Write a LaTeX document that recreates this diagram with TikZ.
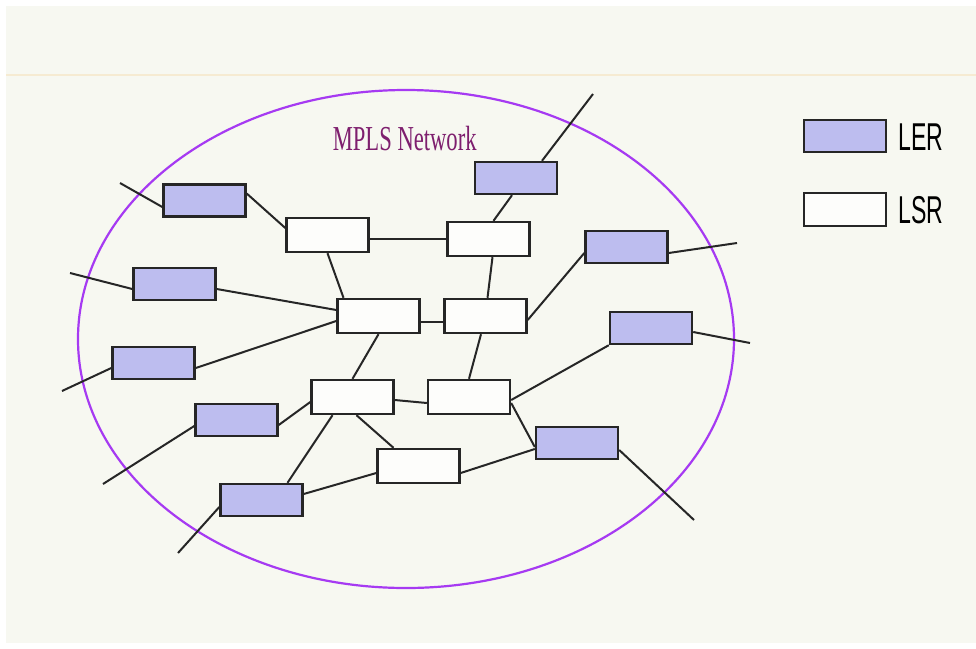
\documentclass[tikz,border=0pt]{standalone}
\usepackage{fontspec}
\setmainfont{Liberation Serif}
\newfontfamily\legendfont{Liberation Sans}
\begin{document}
\begin{tikzpicture}[x=1pt,y=-1pt,
  lerbox/.style={draw=black!85,line width=2.4pt,fill=lerfill,minimum width=82pt,minimum height=32pt,inner sep=0pt},
  lsrbox/.style={draw=black!85,line width=2.4pt,fill=white!70!paper,minimum width=82pt,minimum height=34pt,inner sep=0pt},
  link/.style={draw=black!85,line width=2pt},
  netborder/.style={draw=netviolet,line width=2.2pt}]
\definecolor{paper}{HTML}{F7F8F1}
\definecolor{lerfill}{HTML}{BDBDEF}
\definecolor{netviolet}{HTML}{A63AF2}
\definecolor{titlecol}{HTML}{7E1F6E}
\definecolor{rulecol}{HTML}{F6EBD2}

% page and background
\useasboundingbox (0,0) rectangle (976,648);
\fill[white] (0,0) rectangle (976,648);
\fill[paper] (6,6) rectangle (976,643);
\draw[rulecol,line width=1.5pt] (6,75) -- (976,75);

% network boundary
\draw[netborder] (406,339) ellipse [x radius=328, y radius=249];
\node[font=\fontsize{22.6}{24}\selectfont,text=titlecol] (title) at (404.7,138.5) {\scalebox{1}[1.55]{MPLS Network}};

% label edge routers
\node[lerbox] (ler1) at (204.5,200.5) {};
\node[lerbox] (lerT) at (516,178) {};
\node[lerbox] (lerR1) at (626.5,247) {};
\node[lerbox] (ler2) at (174.5,284) {};
\node[lerbox] (lerR2) at (651,328) {};
\node[lerbox] (ler3) at (153.5,363) {};
\node[lerbox] (ler4) at (236.5,420) {};
\node[lerbox] (lerR3) at (577,443) {};
\node[lerbox] (ler5) at (261.5,500) {};

% label switch routers
\node[lsrbox] (lsrA) at (327.5,235) {};
\node[lsrbox] (lsrB) at (488.5,239) {};
\node[lsrbox] (lsrC) at (378.5,316) {};
\node[lsrbox] (lsrD) at (485.5,316) {};
\node[lsrbox] (lsrE) at (352.5,397) {};
\node[lsrbox] (lsrF) at (469,397) {};
\node[lsrbox] (lsrG) at (418.5,466) {};

% outside ends of the access links
\coordinate (x1) at (120,183);
\coordinate (x2) at (70,273);
\coordinate (x3) at (62,391);
\coordinate (x4) at (103,484);
\coordinate (x5) at (178,553);
\coordinate (x6) at (593,94);
\coordinate (x7) at (737,243);
\coordinate (x8) at (750,343);
\coordinate (x9) at (694,520);

% links
\path[link] (x1) -- ([yshift=-6.5pt]ler1.west);
\path[link] ([yshift=7pt]ler1.east) -- ([yshift=7pt]lsrA.west);
\path[link] ([yshift=-4pt]lsrA.east) -- (lsrB.west);
\path[link] (lsrA.south) -- ([xshift=-35pt]lsrC.north);
\path[link] ([xshift=26pt]lerT.north) -- (x6);
\path[link] ([xshift=-4pt]lerT.south) -- ([xshift=5pt]lsrB.north);
\path[link] ([xshift=4pt]lsrB.south) -- ([xshift=2pt]lsrD.north);
\path[link] ([yshift=-6pt]lerR1.east) -- (x7);
\path[link] ([yshift=-6pt]lerR1.west) -- ([yshift=-4pt]lsrD.east);
\path[link] (x2) -- ([yshift=-5pt]ler2.west);
\path[link] ([yshift=-5pt]ler2.east) -- ([yshift=6pt]lsrC.west);
\path[link] (x3) -- ([yshift=-5pt]ler3.west);
\path[link] ([yshift=-5pt]ler3.east) -- ([yshift=-5pt]lsrC.west);
\path[link] ([yshift=-6pt]lsrC.east) -- ([yshift=-6pt]lsrD.west);
\path[link] (lsrC.south) -- (lsrE.north);
\path[link] ([xshift=-4.5pt]lsrD.south) -- (lsrF.north);
\path[link] (lerR2.south west) -- ([yshift=-3pt]lsrF.east);
\path[link] ([yshift=-4pt]lerR2.east) -- (x8);
\path[link] ([yshift=-6pt]lsrF.east) -- ([yshift=-4pt]lerR3.west);
\path[link] ([yshift=-7pt]lsrG.east) -- ([yshift=-6pt]lerR3.west);
\path[link] ([yshift=-7pt]lerR3.east) -- (x9);
\path[link] ([yshift=-3pt]lsrE.east) -- ([yshift=-6pt]lsrF.west);
\path[link] ([yshift=-5pt]ler4.east) -- ([yshift=-5pt]lsrE.west);
\path[link] (x4) -- ([yshift=-6pt]ler4.west);
\path[link] ([xshift=4pt]lsrE.south) -- ([xshift=-25pt]lsrG.north);
\path[link] ([xshift=-20pt]lsrE.south) -- ([xshift=26pt]ler5.north);
\path[link] ([yshift=6pt]ler5.east) -- ([yshift=-7pt]lsrG.west);
\path[link] (x5) -- ([yshift=-7pt]ler5.west);

% legend
\node[lerbox,minimum height=32pt] (legler) at (845,136) {};
\node[lsrbox,minimum height=33pt] (leglsr) at (845,209.5) {};
\node[font=\legendfont\fontsize{23.1}{24}\selectfont,anchor=west,inner sep=0pt] (legtxt1) at (898,137) {\scalebox{1}[1.68]{LER}};
\node[font=\legendfont\fontsize{23.1}{24}\selectfont,anchor=west,inner sep=0pt] (legtxt2) at (898,210.5) {\scalebox{1}[1.68]{LSR}};
\end{tikzpicture}
\end{document}
